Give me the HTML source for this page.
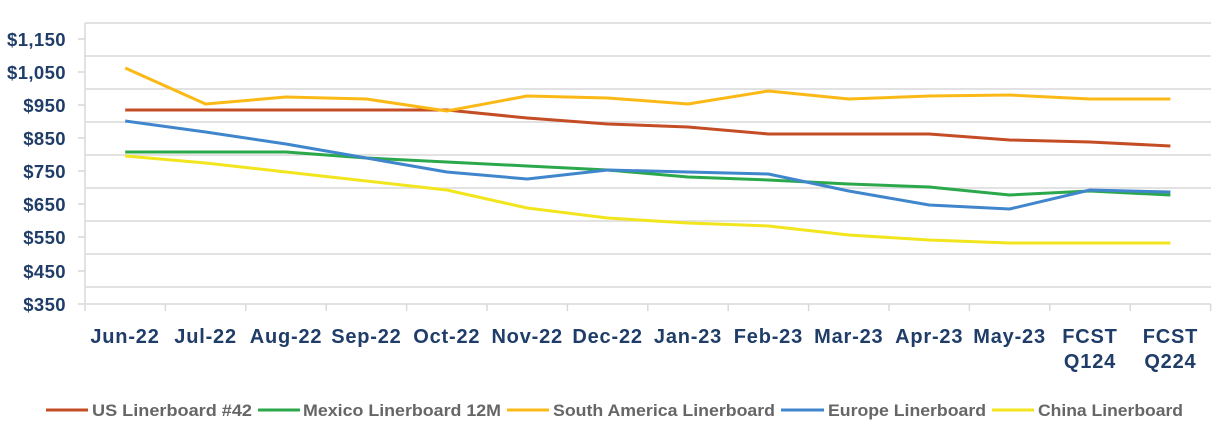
<!DOCTYPE html>
<html><head><meta charset="utf-8"><style>body{margin:0;background:#fff}svg{display:block}</style></head><body>
<svg width="1224" height="444" xmlns="http://www.w3.org/2000/svg" font-family="Liberation Sans, sans-serif">
<g stroke="#d9d9d9" stroke-width="1.5">
<line x1="85" y1="23" x2="1211" y2="23"/><line x1="85" y1="56" x2="1211" y2="56"/><line x1="85" y1="89" x2="1211" y2="89"/><line x1="85" y1="122" x2="1211" y2="122"/><line x1="85" y1="155" x2="1211" y2="155"/><line x1="85" y1="188" x2="1211" y2="188"/><line x1="85" y1="221" x2="1211" y2="221"/><line x1="85" y1="254" x2="1211" y2="254"/><line x1="85" y1="287" x2="1211" y2="287"/>
<line x1="85" y1="23" x2="85" y2="311"/><line x1="78" y1="304" x2="1211" y2="304"/>
<line x1="78" y1="39" x2="85" y2="39"/><line x1="78" y1="72" x2="85" y2="72"/><line x1="78" y1="105" x2="85" y2="105"/><line x1="78" y1="138" x2="85" y2="138"/><line x1="78" y1="171" x2="85" y2="171"/><line x1="78" y1="204" x2="85" y2="204"/><line x1="78" y1="237" x2="85" y2="237"/><line x1="78" y1="271" x2="85" y2="271"/>
<line x1="165.4" y1="304" x2="165.4" y2="311"/><line x1="245.8" y1="304" x2="245.8" y2="311"/><line x1="326.2" y1="304" x2="326.2" y2="311"/><line x1="406.6" y1="304" x2="406.6" y2="311"/><line x1="487" y1="304" x2="487" y2="311"/><line x1="567.4" y1="304" x2="567.4" y2="311"/><line x1="647.8" y1="304" x2="647.8" y2="311"/><line x1="728.2" y1="304" x2="728.2" y2="311"/><line x1="808.6" y1="304" x2="808.6" y2="311"/><line x1="889" y1="304" x2="889" y2="311"/><line x1="969.4" y1="304" x2="969.4" y2="311"/><line x1="1049.8" y1="304" x2="1049.8" y2="311"/><line x1="1130.2" y1="304" x2="1130.2" y2="311"/><line x1="1210.6" y1="304" x2="1210.6" y2="311"/>
</g>
<g font-size="18.5" font-weight="bold" fill="#1f3d68" text-anchor="end" letter-spacing="0.4">
<text x="66" y="46">$1,150</text><text x="66" y="79">$1,050</text><text x="66" y="112">$950</text><text x="66" y="145">$850</text><text x="66" y="178">$750</text><text x="66" y="211">$650</text><text x="66" y="244">$550</text><text x="66" y="278">$450</text><text x="66" y="311">$350</text>
</g>
<g font-size="20" font-weight="bold" fill="#1f3d68" text-anchor="middle" letter-spacing="0.8">
<text x="125" y="343">Jun-22</text><text x="205.6" y="343">Jul-22</text><text x="286" y="343">Aug-22</text><text x="366.4" y="343">Sep-22</text><text x="446.8" y="343">Oct-22</text><text x="527.2" y="343">Nov-22</text><text x="607.6" y="343">Dec-22</text><text x="688" y="343">Jan-23</text><text x="768.4" y="343">Feb-23</text><text x="848.8" y="343">Mar-23</text><text x="929.2" y="343">Apr-23</text><text x="1009.6" y="343">May-23</text>
<text x="1090" y="343">FCST</text><text x="1090" y="368">Q124</text><text x="1170.4" y="343">FCST</text><text x="1170.4" y="368">Q224</text>
</g>
<g fill="none" stroke-width="3" stroke-linejoin="round">
<polyline stroke="#c44d26" points="125.2,110 205.6,110 286,110 366.4,110 446.8,110 527.2,118 607.6,124 688,127 768.4,134 848.8,134 929.2,134 1009.6,140 1090,142 1170.4,146"/>
<polyline stroke="#2ca84c" points="125.2,152 205.6,152 286,152 366.4,158 446.8,162 527.2,166 607.6,170 688,177 768.4,180 848.8,184 929.2,187 1009.6,195 1090,191 1170.4,195"/>
<polyline stroke="#fbb917" points="125.2,68 205.6,104 286,97 366.4,99 446.8,111 527.2,96 607.6,98 688,104 768.4,91 848.8,99 929.2,96 1009.6,95 1090,99 1170.4,99"/>
<polyline stroke="#3f86cc" points="125.2,121 205.6,132 286,144 366.4,158 446.8,172 527.2,179 607.6,170 688,172 768.4,174 848.8,191 929.2,205 1009.6,209 1090,190 1170.4,192"/>
<polyline stroke="#f2e51d" points="125.2,156 205.6,163 286,172 366.4,181 446.8,190 527.2,208 607.6,218 688,223 768.4,226 848.8,235 929.2,240 1009.6,243 1090,243 1170.4,243"/>
</g>
<g stroke-width="3">
<line x1="46" y1="410" x2="88" y2="410" stroke="#c44d26"/><line x1="258" y1="410" x2="300" y2="410" stroke="#2ca84c"/><line x1="507" y1="410" x2="549" y2="410" stroke="#fbb917"/><line x1="781" y1="410" x2="824" y2="410" stroke="#3f86cc"/><line x1="992" y1="410" x2="1034" y2="410" stroke="#f2e51d"/>
</g>
<g font-size="17" font-weight="bold" fill="#666">
<text x="92" y="416" textLength="160" lengthAdjust="spacingAndGlyphs">US Linerboard #42</text><text x="303" y="416" textLength="198" lengthAdjust="spacingAndGlyphs">Mexico Linerboard 12M</text><text x="553" y="416" textLength="222" lengthAdjust="spacingAndGlyphs">South America Linerboard</text><text x="828" y="416" textLength="158" lengthAdjust="spacingAndGlyphs">Europe Linerboard</text><text x="1038" y="416" textLength="145" lengthAdjust="spacingAndGlyphs">China Linerboard</text>
</g>
</svg>
</body></html>
